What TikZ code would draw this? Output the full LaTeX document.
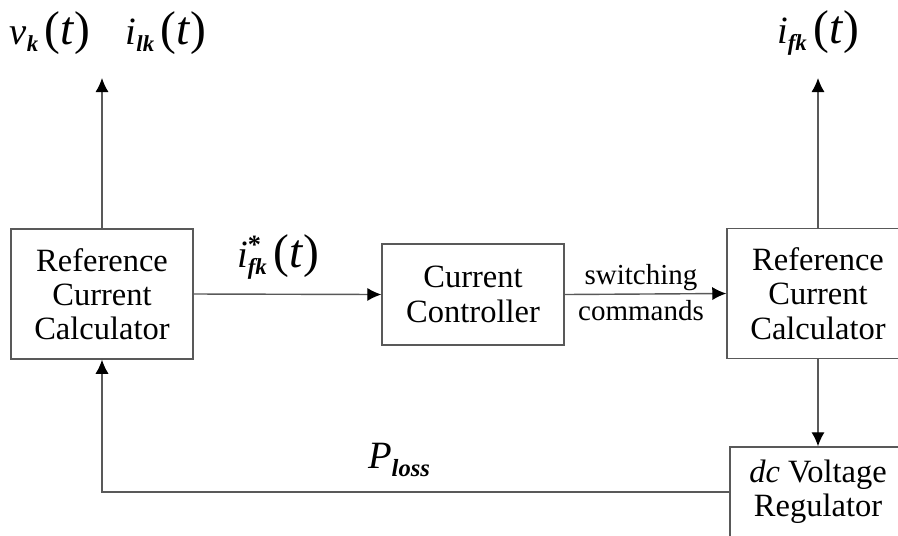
\documentclass[tikz,border=0pt]{standalone}
\usepackage{fontspec}
\setmainfont{Liberation Serif}
\usetikzlibrary{arrows.meta}

\newcommand{\sigvar}[3][]{%
  {\itshape #2}%
  \makebox[0pt][l]{\raisebox{0.8ex}{\fontsize{15}{15}\selectfont\bfseries #1}}%
  \raisebox{-0.4ex}{\fontsize{13}{13}\selectfont\itshape\bfseries #3}%
  \,{\fontsize{27}{27}\selectfont(\textit{t})}}

\tikzset{
  block/.style={draw=black!65, line width=0.8pt, align=center, inner sep=0pt,
    font=\fontsize{18.5}{19.5}\selectfont},
  sig/.style={inner sep=0pt, font=\fontsize{22}{22}\selectfont},
  cmd/.style={inner sep=0pt, font=\fontsize{16.5}{16.5}\selectfont},
  flow/.style={draw=black!65, line width=0.8pt, -{Latex[length=8pt,width=7.5pt,black]}},
}

\begin{document}
\begin{tikzpicture}[x=0.02cm,y=-0.02cm]
    \useasboundingbox (0,0) rectangle (898,535);
    \clip (0,0) rectangle (898,535);

    \node[block, minimum width=3.64cm, minimum height=2.6cm] (refIn) at (102,294) {Reference\\Current\\Calculator};
    \node[block, minimum width=3.64cm, minimum height=2.02cm] (ctrl) at (473,294.5) {Current\\Controller};
    \node[block, minimum width=3.64cm, minimum height=2.6cm] (refOut) at (818,293.5) {Reference\\Current\\Calculator};
    \node[block, minimum width=3.52cm, minimum height=1.8cm] (dcReg) at (818,492) {\textit{dc} Voltage\\Regulator};

    \coordinate (vOut) at (102,78);
    \coordinate (ifOut) at (818,78);

    \node[sig] (vLbl) at (50,33) {\sigvar{v}{k}};
    \node[sig] (ilLbl) at (166,33) {\sigvar{i}{lk}};
    \node[sig] (ifLbl) at (818,33) {\sigvar{i}{fk}};
    \node[sig] (irefLbl) at (278,257) {\sigvar[*]{i}{fk}};
    \node[sig] (lossLbl) at (399,460) {\textit{P}\raisebox{-0.5ex}{\fontsize{14}{14}\selectfont\itshape\bfseries loss}};
    \node[cmd] (swLbl) at (641,278) {switching};
    \node[cmd] (cmdLbl) at (641,311) {commands};

    \draw[flow] (refIn.north) -- (vOut);
    \draw[flow] (refOut.north) -- (ifOut);
    \draw[flow] (refIn.east) -- (ctrl.west);
    \draw[flow] (ctrl.east) -- (refOut.west);
    \draw[flow] (refOut.south) -- (dcReg.north);
    \draw[flow] (dcReg.west) -| (refIn.south);
\end{tikzpicture}
\end{document}
